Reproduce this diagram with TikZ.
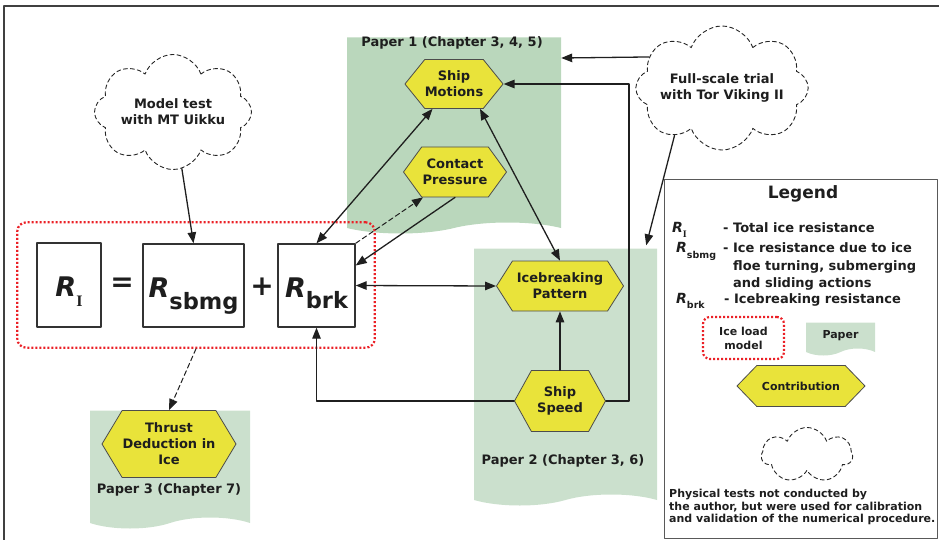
\documentclass[tikz,border=0pt]{standalone}
\usepackage{fontspec}
\setmainfont{DejaVu Sans}
\newfontfamily\serifsub{Liberation Serif}
\usetikzlibrary{shapes.symbols,arrows.meta,calc,fit,positioning}

\definecolor{hexyellow}{RGB}{233,227,58}
\definecolor{paperdark}{RGB}{186,215,188}
\definecolor{paperlight}{RGB}{203,224,205}
\definecolor{inkgray}{RGB}{30,30,30}
\definecolor{loadred}{RGB}{235,32,38}

\newcommand{\sz}[2]{\fontsize{#1}{#2}\selectfont\bfseries}
\newcommand{\bigR}{{\fontsize{27}{27}\selectfont\bfseries\itshape R}}
\newcommand{\legR}{{\fontsize{14}{16}\selectfont\bfseries\itshape R}}

\tikzstyle{every node}=[text=inkgray]
\tikzstyle{every path}=[line cap=round,line join=round]

\tikzset{
  contrib/.style={signal, signal to=east and west, draw=black!70, fill=hexyellow,
    line width=0.8pt, align=center, inner sep=0pt, font=\sz{13}{16}},
  paper/.style={tape, tape bend top=none, tape bend bottom=in and out,
    tape bend height=11pt, fill=#1, draw=none, inner sep=0pt},
  ptitle/.style={font=\sz{13}{16}, inner sep=0pt},
  trial/.style={cloud, cloud puffs=8, cloud puff arc=140, cloud ignores aspect,
    draw=black!85, line width=0.9pt, dash pattern=on 4pt off 3pt, fill=white,
    align=center, inner sep=0pt, font=\sz{13}{16}},
  rbox/.style={draw=black!80, line width=1.4pt, fill=white, inner sep=0pt,
    text height=23pt, text depth=0pt},
  loadbox/.style={draw=loadred, line width=2.2pt, line cap=butt,
    dash pattern=on 2pt off 2pt, rounded corners=9pt},
  flow/.style={draw=black!88, line width=1.3pt, -{Triangle[length=11pt,width=8.5pt]}},
  flowboth/.style={flow, {Triangle[length=11pt,width=8.5pt]}-{Triangle[length=11pt,width=8.5pt]}},
  flowdash/.style={flow, line width=1pt, dash pattern=on 5pt off 3pt},
  legtext/.style={font=\sz{13}{16}, inner sep=0pt, anchor=base west},
}

\begin{document}
\begin{tikzpicture}[x=1pt,y=-1pt]
    \useasboundingbox (0,0) rectangle (939,540);
    % Outer frame (runs past the page edge)
    \draw[draw=black!75, line width=1.5pt] (4,6) rectangle (950,552);

    % Papers
    \node[paper=paperdark, minimum width=214, minimum height=196] (paper1) at (454,130) {};
    \node[paper=paperlight, minimum width=183, minimum height=257] (paper2) at (565.5,371.5) {};
    \node[paper=paperlight, minimum width=160, minimum height=118] (paper3) at (170,464) {};
    \node[ptitle] (paper1title) at (452,43) {Paper 1 (Chapter 3, 4, 5)};
    \node[ptitle] (paper2title) at (563,461) {Paper 2 (Chapter 3, 6)};
    \node[ptitle] (paper3title) at (169,490) {Paper 3 (Chapter 7)};

    % Contributions
    \node[contrib, minimum width=92, minimum height=49, signal pointer angle=102] (motions) at (454,84) {Ship\\Motions};
    \node[contrib, minimum width=103, minimum height=50, signal pointer angle=108] (pressure) at (455,172) {Contact\\Pressure};
    \node[contrib, minimum width=127, minimum height=50, signal pointer angle=115] (pattern) at (560,286) {Icebreaking\\Pattern};
    \node[contrib, minimum width=91, minimum height=61, signal pointer angle=122] (speed) at (560,401) {Ship\\Speed};
    \node[contrib, minimum width=134, minimum height=67, signal pointer angle=118] (thrust) at (169,444) {Thrust\\Deduction in\\Ice};

    % Physical tests
    \node[trial, minimum width=157, minimum height=115] (modeltest) at (173,112) {Model test\\with MT Uikku};
    \node[trial, minimum width=171, minimum height=124] (fullscale) at (722,88) {Full-scale trial\\with Tor Viking II};

    % Ice load model
    \node[rbox, minimum width=64, minimum height=84] (RI) at (69,285)
        {\bigR\raisebox{-10pt}{\fontsize{16}{16}\selectfont\serifsub\bfseries I}};
    \node[font=\sz{28}{28}] (eq) at (122,285) {=};
    \node[rbox, minimum width=101, minimum height=83] (Rsbmg) at (193.5,285.5)
        {\bigR\raisebox{-12pt}{\sz{22.5}{23}sbmg}};
    \node[font=\sz{28}{28}] (plus) at (262,287) {+};
    \node[rbox, minimum width=77, minimum height=83] (Rbrk) at (316.5,285.5)
        {\bigR\raisebox{-11.5pt}{\sz{22.5}{23}brk}};
    \node[loadbox, fit=(RI)(Rbrk), inner xsep=19pt, inner ysep=20pt] (loadmodel) {};

    % Links
    \draw[flow] (modeltest) -- (Rsbmg.north);
    \draw[flow] (fullscale.157) -- (paper1.east |- 0,58);
    \draw[flow] (fullscale.225) -- ($(paper2.north east)+(-11,-3)$);
    \draw[flowboth] (Rbrk.north) -- (motions);
    \draw[flowboth] ($(motions.south)+(26,0)$) -- (pattern.north);
    \draw[flowboth] (Rbrk.east) -- (pattern.west);
    \draw[flow] (pressure.south) -- ($(Rbrk.east)+(0,-20)$);
    \draw[flowdash] (Rbrk.north east) -- ($(pressure.south)+(-32,0)$);
    \draw[flow] (speed.north) -- (pattern.south);
    \draw[flow] (speed.west) -| (Rbrk.south);
    \draw[flow] (speed.east) -- ++(23,0) |- (motions.east);
    \draw[flowdash] (loadmodel.south) -- (thrust.north);

    % Legend
    \node[draw=black!65, line width=1pt, minimum width=273, minimum height=358] (legend) at (800.5,359) {};
    \node[font=\sz{17}{20}] (legendtitle) at (803,194) {Legend};
    \node[legtext] (legRI) at (672,233) {\legR\raisebox{-5pt}{\fontsize{10}{10}\selectfont\serifsub\bfseries I}};
    \node[legtext] (legRItext) at (723,233) {- Total ice resistance};
    \node[legtext] (legRsbmg) at (676,252) {\legR\raisebox{-6pt}{\sz{9.5}{10}sbmg}};
    \node[legtext] (legRsbmgtext) at (723,252) {- Ice resistance due to ice};
    \node[legtext] (legRsbmgtextb) at (733,270) {floe turning, submerging};
    \node[legtext] (legRsbmgtextc) at (733,287) {and sliding actions};
    \node[legtext] (legRbrk) at (676,303) {\legR\raisebox{-5pt}{\sz{9.5}{10}brk}};
    \node[legtext] (legRbrktext) at (724,303) {- Icebreaking resistance};
    \node[loadbox, rounded corners=7pt, minimum width=81, minimum height=42, align=center, font=\sz{11}{14}] (legload) at (743.5,338) {Ice load\\model};
    \node[paper=paperlight, tape bend height=7pt, minimum width=69, minimum height=33, font=\sz{11}{14}] (legpaper) at (840.5,335.5) {Paper};
    \node[contrib, minimum width=128, minimum height=41, signal pointer angle=92, font=\sz{11}{14}] (legcontrib) at (801,386) {Contribution};
    \node[trial, cloud puffs=7, minimum width=91, minimum height=55] (legcloud) at (807,455) {};
    \node[font=\sz{11}{12.6}, align=left, anchor=north west, inner sep=0pt] (legnote) at (669,489)
        {Physical tests not conducted by\\the author, but were used for calibration\\and validation of the numerical procedure.};
\end{tikzpicture}
\end{document}
